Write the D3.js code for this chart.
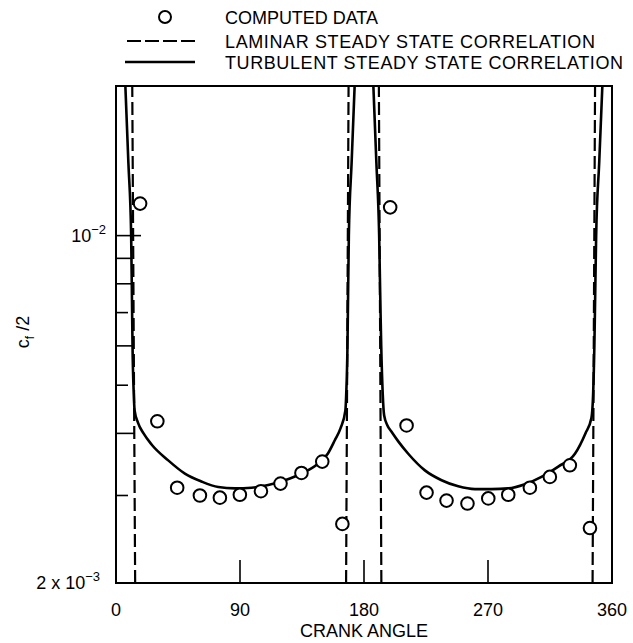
<!DOCTYPE html>
<html>
<head>
<meta charset="utf-8">
<script src="https://cdn.jsdelivr.net/npm/d3@7"></script>
<style>
  body { margin: 0; background: #fff; }
  text { font-family: "Liberation Sans", Arial, Helvetica, sans-serif; fill: #000; }
</style>
</head>
<body>
<div id="chart"></div>
<script>
// computed data (crank angle in degrees, cf/2)
const computedAngle = [17.5, 30.0, 44.4, 60.9, 75.4, 89.9, 105.2, 119.4, 134.6, 149.7, 164.3,
                       199.0, 210.9, 225.4, 239.9, 255.1, 270.2, 284.7, 300.4, 314.9, 329.4, 344.0];
const computedCf = [0.0116, 0.00423, 0.00311, 0.0030, 0.00297, 0.00301, 0.00306, 0.00317, 0.00333, 0.00351, 0.00263,
                    0.0114, 0.00415, 0.00304, 0.00293, 0.00289, 0.00296, 0.00301, 0.00311, 0.00327, 0.00345, 0.00258];

// turbulent steady state correlation, one branch per stroke
const turbAngle1 = [6.8, 9, 11.0, 11.7, 12.0, 12.9, 13.5, 16, 20, 25.8, 37.9, 50, 62.1, 74.2, 86.3, 98.4, 110.5,
                    122.6, 134.6, 146.8, 153.7, 158.9, 163, 166.5, 167.1, 168.0, 168.3, 169, 171, 173.2];
const turbCf1 = [0.02, 0.014, 0.01, 0.007, 0.006, 0.0048, 0.00445, 0.0042, 0.0040, 0.0038, 0.00353, 0.00332, 0.0032,
                 0.00312, 0.0031, 0.00311, 0.00315, 0.00322, 0.00332, 0.00348, 0.00364, 0.00388, 0.0041, 0.00445,
                 0.0048, 0.006, 0.007, 0.01, 0.014, 0.02];
const turbAngle2 = [186.8, 189, 191, 192, 192.5, 193.6, 194.6, 197, 200, 205, 212.1, 224.2, 236.3, 248.4, 260.5, 272.5,
                    284.7, 296.8, 308.8, 321, 333.1, 340.7, 345.1, 346.3, 347.2, 347.6, 348.5, 350.7, 353];
const turbCf2 = [0.02, 0.014, 0.01, 0.007, 0.006, 0.0048, 0.00435, 0.00415, 0.00403, 0.00385, 0.00364, 0.00337,
                 0.00322, 0.00313, 0.00309, 0.00309, 0.0031, 0.00316, 0.00327, 0.00343, 0.00364, 0.0040, 0.0043,
                 0.0048, 0.006, 0.007, 0.01, 0.014, 0.02];

// laminar steady state correlation: almost vertical near each dead center
const laminarAngleLow = [13.9, 167.0, 192.6, 345.9];
const laminarAngleHigh = [11.8, 168.8, 190.8, 347.7];
const laminarCf = [0.002, 0.02];

const xTicks = [0, 90, 180, 270, 360];
const yTicks = [0.003, 0.004, 0.005, 0.006, 0.007, 0.008, 0.009, 0.01];

const legendLabels = ["COMPUTED DATA", "LAMINAR STEADY STATE CORRELATION", "TURBULENT STEADY STATE CORRELATION"];

function draw_plot() {
  const width = 633, height = 643;
  const left = 116, right = 612, top = 86, bottom = 583;

  const svg = d3.select("#chart").append("svg")
      .attr("width", width)
      .attr("height", height);

  const x = d3.scaleLinear().domain([0, 360]).range([left, right]);
  const y = d3.scaleLog().domain([0.002, 0.02]).range([bottom, top]);

  svg.append("clipPath").attr("id", "plotclip")
    .append("rect")
      .attr("x", left).attr("y", top)
      .attr("width", right - left).attr("height", bottom - top);

  // frame
  svg.append("rect")
      .attr("x", left).attr("y", top)
      .attr("width", right - left).attr("height", bottom - top)
      .attr("fill", "none")
      .attr("stroke", "#000")
      .attr("stroke-width", 2);

  // y ticks point inward, the long ones run up to the curves
  const tickLen = {0.003: 12, 0.004: 18.5, 0.005: 12, 0.006: 16.5, 0.007: 12, 0.008: 15, 0.009: 15, 0.01: 25};
  svg.append("g").selectAll("line")
    .data(yTicks)
    .join("line")
      .attr("x1", left).attr("x2", d => left + tickLen[d])
      .attr("y1", d => y(d)).attr("y2", d => y(d))
      .attr("stroke", "#000")
      .attr("stroke-width", 1.6);

  // x ticks
  svg.append("g").selectAll("line")
    .data(xTicks.filter(d => d > 0 && d < 360))
    .join("line")
      .attr("x1", d => x(d)).attr("x2", d => x(d))
      .attr("y1", bottom).attr("y2", bottom - 23)
      .attr("stroke", "#000")
      .attr("stroke-width", 1.6);

  svg.append("g").selectAll("text")
    .data(xTicks)
    .join("text")
      .attr("x", d => x(d))
      .attr("y", 616)
      .attr("text-anchor", "middle")
      .style("font-size", "18px")
      .text(d => d);

  svg.append("text")
      .attr("x", x(180))
      .attr("y", 637)
      .attr("text-anchor", "middle")
      .style("font-size", "18px")
      .text("CRANK ANGLE");

  // y labels
  const lab1 = svg.append("text")
      .attr("x", 106).attr("y", y(0.01) + 6)
      .attr("text-anchor", "end")
      .style("font-size", "18px");
  lab1.append("tspan").text("10");
  lab1.append("tspan").attr("dy", -8).style("font-size", "13px").text("\u22122");

  const lab2 = svg.append("text")
      .attr("x", 100).attr("y", y(0.002) + 6)
      .attr("text-anchor", "end")
      .style("font-size", "18px");
  lab2.append("tspan").text("2 x 10");
  lab2.append("tspan").attr("dy", -8).style("font-size", "13px").text("\u22123");

  const ylab = svg.append("text")
      .attr("transform", "translate(29,332) rotate(-90)")
      .attr("text-anchor", "middle")
      .style("font-size", "18px");
  ylab.append("tspan").text("c");
  ylab.append("tspan").attr("dy", 5).style("font-size", "12px").text("f");
  ylab.append("tspan").attr("dy", -5).text(" /2");

  const plot = svg.append("g").attr("clip-path", "url(#plotclip)");

  // laminar
  plot.append("g").selectAll("line")
    .data(d3.zip(laminarAngleLow, laminarAngleHigh))
    .join("line")
      .attr("x1", d => x(d[0])).attr("x2", d => x(d[1]))
      .attr("y1", y(laminarCf[0])).attr("y2", y(laminarCf[1]))
      .attr("stroke", "#000")
      .attr("stroke-width", 2.2)
      .attr("stroke-dasharray", "13,5");

  // turbulent
  const line = d3.line()
      .x(d => x(d[0]))
      .y(d => y(d[1]))
      .curve(d3.curveMonotoneX);

  [[turbAngle1, turbCf1], [turbAngle2, turbCf2]].forEach(function(s) {
    plot.append("path")
        .datum(d3.zip(s[0], s[1]))
        .attr("d", line)
        .attr("fill", "none")
        .attr("stroke", "#000")
        .attr("stroke-width", 2.6);
  });

  // computed data
  plot.append("g").selectAll("circle")
    .data(d3.zip(computedAngle, computedCf))
    .join("circle")
      .attr("cx", d => x(d[0]))
      .attr("cy", d => y(d[1]))
      .attr("r", 6.3)
      .attr("fill", "#fff")
      .attr("stroke", "#000")
      .attr("stroke-width", 2);

  // legend
  const legY = [17, 41, 62];
  const legLen = [153, 370, 398];
  svg.append("circle")
      .attr("cx", 165).attr("cy", legY[0]).attr("r", 6)
      .attr("fill", "none").attr("stroke", "#000").attr("stroke-width", 2);
  svg.append("line")
      .attr("x1", 127).attr("x2", 195).attr("y1", legY[1]).attr("y2", legY[1])
      .attr("stroke", "#000").attr("stroke-width", 2.2)
      .attr("stroke-dasharray", "14,4");
  svg.append("line")
      .attr("x1", 125).attr("x2", 195).attr("y1", legY[2]).attr("y2", legY[2])
      .attr("stroke", "#000").attr("stroke-width", 2.6);

  svg.append("g").selectAll("text")
    .data(legendLabels)
    .join("text")
      .attr("x", 225)
      .attr("y", (d, i) => legY[i] + 6.5)
      .attr("textLength", (d, i) => legLen[i])
      .attr("lengthAdjust", "spacing")
      .style("font-size", "18px")
      .text(d => d);
}

draw_plot();
</script>
</body>
</html>
